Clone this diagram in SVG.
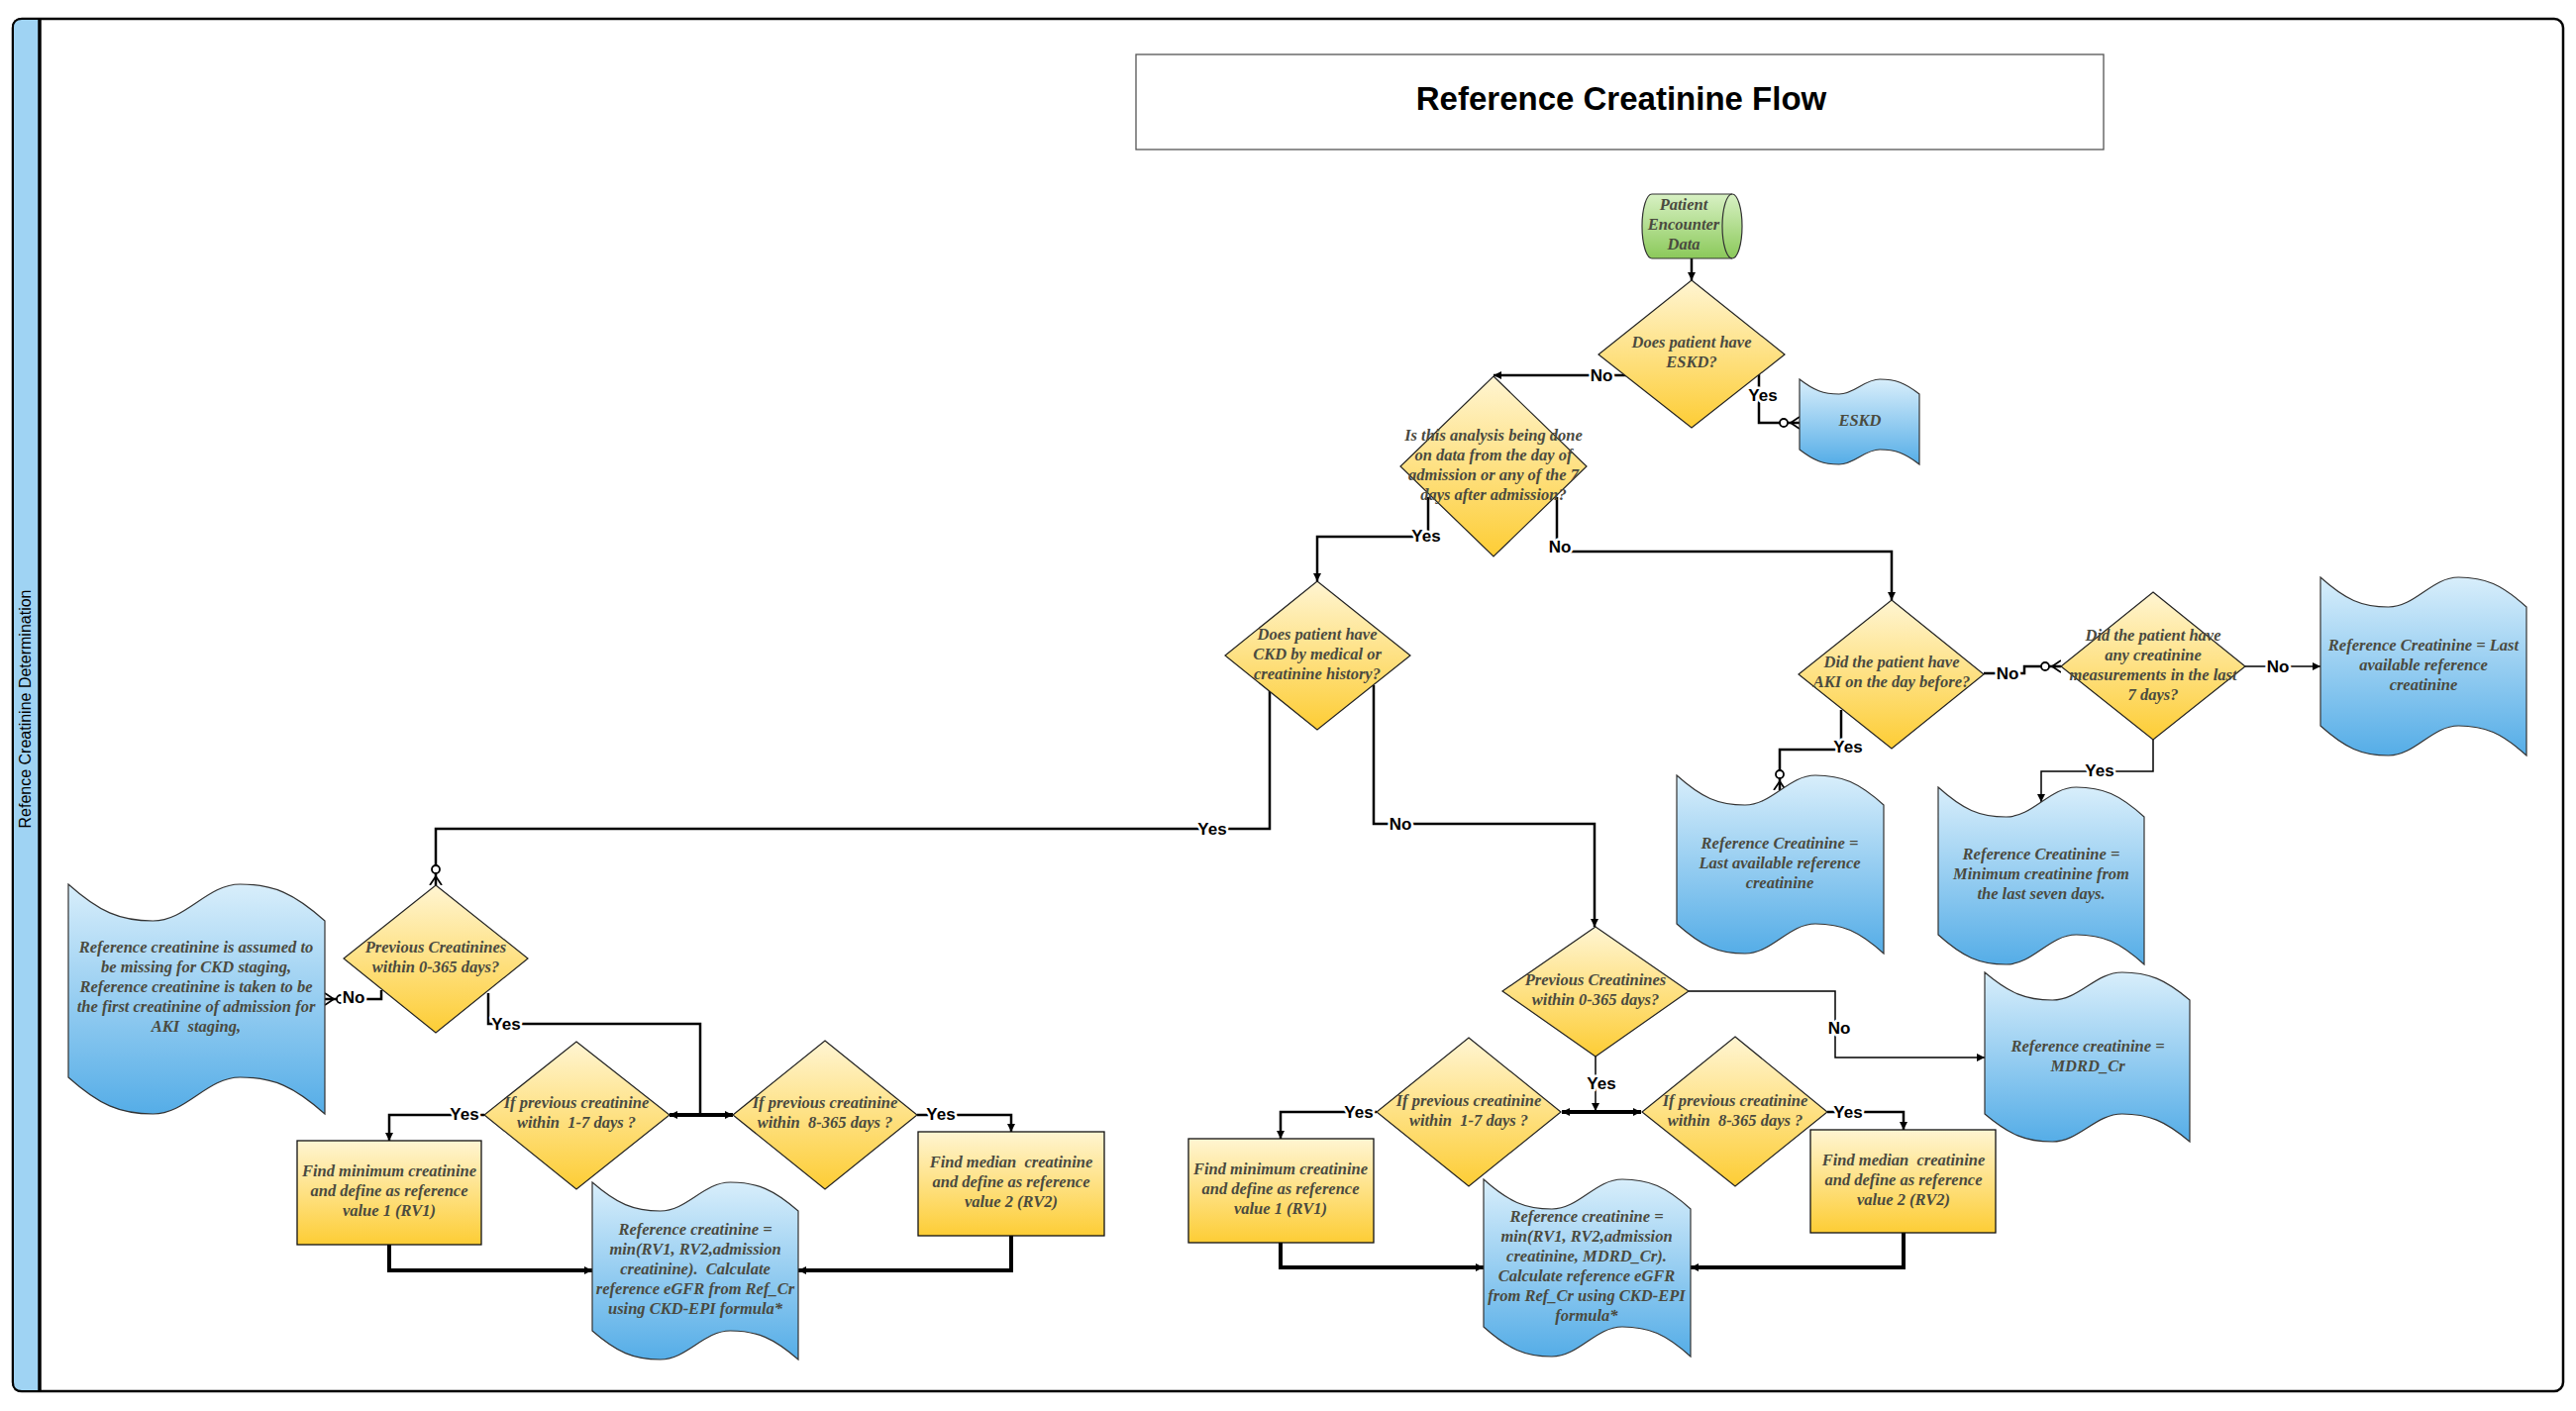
<svg xmlns="http://www.w3.org/2000/svg" width="2601" height="1425" viewBox="0 0 2601 1425">
<style>
.t{font-family:"Liberation Serif","DejaVu Serif",serif;font-weight:bold;font-style:italic;font-size:16.5px;fill:#4a4a3f;text-anchor:middle;white-space:pre}
.lb{font-family:"Liberation Sans",Arial,sans-serif;font-weight:bold;font-size:17px;fill:#000;text-anchor:middle;paint-order:stroke;stroke:#fff;stroke-width:5px;stroke-linejoin:round}
.dia{fill:url(#gy);stroke:#222;stroke-width:1.2}
.rect{fill:url(#gy);stroke:#111;stroke-width:1.3}
.doc{fill:url(#gb);stroke:#333;stroke-width:1.2}
.c{fill:none;stroke:#000;stroke-width:2.5}
.ck{fill:none;stroke:#000;stroke-width:4}
.cn{fill:none;stroke:#000;stroke-width:1.5}
</style>
<defs>
<linearGradient id="gy" x1="0" y1="0" x2="0" y2="1"><stop offset="0" stop-color="#fff5d2"/><stop offset="1" stop-color="#fdcd35"/></linearGradient>
<linearGradient id="gb" x1="0" y1="0" x2="0" y2="1"><stop offset="0" stop-color="#d8eefb"/><stop offset="1" stop-color="#55ade7"/></linearGradient>
<linearGradient id="gg" x1="0" y1="0" x2="0" y2="1"><stop offset="0" stop-color="#d8f1c4"/><stop offset="1" stop-color="#8bc95a"/></linearGradient>
<marker id="arr" viewBox="0 0 10 10" refX="10" refY="5" markerWidth="11" markerHeight="8" markerUnits="userSpaceOnUse" orient="auto-start-reverse"><path d="M0,0 L10,5 L0,10 Z" fill="#000"/></marker>
<marker id="zm" viewBox="0 0 22 14" refX="22" refY="7" markerWidth="22" markerHeight="14" markerUnits="userSpaceOnUse" orient="auto"><path d="M10,7 H22 M22,1 L13,7 L22,13" fill="none" stroke="#000" stroke-width="1.8"/><circle cx="6" cy="7" r="4" fill="#fff" stroke="#000" stroke-width="1.8"/></marker>
</defs>
<rect width="2601" height="1425" fill="#fff"/>
<g id="frame">
<rect x="13" y="19" width="2575" height="1386" rx="9" fill="#fff" stroke="#000" stroke-width="2.5"/>
<path d="M40,19 V1405 H22 Q13,1405 13,1396 V28 Q13,19 22,19 Z" fill="#9fd3f3" stroke="#000" stroke-width="2"/>
<line x1="40" y1="19" x2="40" y2="1405" stroke="#000" stroke-width="3.5"/>
<text x="31" y="716" transform="rotate(-90 31 716)" font-family="Liberation Sans, Arial, sans-serif" font-size="16" text-anchor="middle" fill="#000">Refence Creatinine Determination</text>
</g>
<g id="title">
<rect x="1147" y="55" width="977" height="96" fill="#fff" stroke="#555" stroke-width="1.3"/>
<text x="1637" y="111" font-family="Liberation Sans, Arial, sans-serif" font-weight="bold" font-size="33" text-anchor="middle" fill="#000">Reference Creatinine Flow</text>
</g>
<g id="connectors">
<path class="c" d="M1708,261 V283" marker-end="url(#arr)"/>
<path class="c" d="M1776,378 V427 H1817" marker-end="url(#zm)"/>
<path class="c" d="M1642,379 H1508" marker-end="url(#arr)"/>
<path class="c" d="M1442,502 V542 H1330 V587" marker-end="url(#arr)"/>
<path class="c" d="M1572,502 V557 H1910 V606" marker-end="url(#arr)"/>
<path class="c" d="M1282,698 V837 H440 V894" marker-end="url(#zm)"/>
<path class="c" d="M1387,692 V832 H1610 V936" marker-end="url(#arr)"/>
<path class="c" d="M1859,717 V757 H1797 V798" marker-end="url(#zm)"/>
<path class="c" d="M2003,680 H2044 V673 H2081" marker-end="url(#zm)"/>
<path class="cn" d="M2267,673 H2343" marker-end="url(#arr)"/>
<path class="cn" d="M2174,747 V779 H2061 V810" marker-end="url(#arr)"/>
<path class="c" d="M385,1000 V1009 H328" marker-end="url(#zm)"/>
<path class="c" d="M493,1003 V1034 H707 V1126"/>
<path class="ck" d="M676,1126 H740" marker-start="url(#arr)" marker-end="url(#arr)"/>
<path class="c" d="M489,1126 H393 V1152" marker-end="url(#arr)"/>
<path class="c" d="M926,1126 H1021 V1143" marker-end="url(#arr)"/>
<path class="ck" d="M393,1257 V1283 H598" marker-end="url(#arr)"/>
<path class="ck" d="M1021,1248 V1283 H806" marker-end="url(#arr)"/>
<path class="cn" d="M1611,1067 V1122" marker-end="url(#arr)"/>
<path class="ck" d="M1577,1123 H1657" marker-start="url(#arr)" marker-end="url(#arr)"/>
<path class="cn" d="M1705,1001 H1853 V1068 H2004" marker-end="url(#arr)"/>
<path class="c" d="M1390,1123 H1293 V1150" marker-end="url(#arr)"/>
<path class="c" d="M1845,1123 H1922 V1141" marker-end="url(#arr)"/>
<path class="ck" d="M1293,1255 V1280 H1498" marker-end="url(#arr)"/>
<path class="ck" d="M1922,1245 V1280 H1707" marker-end="url(#arr)"/>
</g>
<g id="nodes">
<g id="n-patient">
<path d="M1668,196 H1749 A10,32.5 0 0 1 1749,261 H1668 A10,32.5 0 0 1 1668,196 Z" fill="url(#gg)" stroke="#333" stroke-width="1.2"/>
<path d="M1749,196 A10,32.5 0 0 0 1749,261" fill="none" stroke="#333" stroke-width="1.2"/>
<text class="t" x="1700" y="212">Patient</text>
<text class="t" x="1700" y="232">Encounter</text>
<text class="t" x="1700" y="252">Data</text>
</g>
<g id="n-eskd-q">
<polygon class="dia" points="1708,283 1802,358 1708,432 1614,358"/>
<text class="t" x="1708" y="351">Does patient have</text>
<text class="t" x="1708" y="371">ESKD?</text>
</g>
<g id="n-eskd">
<path class="doc" d="M1817,383 C1831.5,394.25 1841.2,398 1856.9,398 C1872.7,398 1882.3,383 1898.1,383 C1913.8,383 1923.5,386.75 1938,398 L1938,469 C1923.5,457.75 1913.8,454 1898.1,454 C1882.3,454 1872.7,469 1856.9,469 C1841.2,469 1831.5,465.25 1817,454 Z"/>
<text class="t" x="1878" y="430">ESKD</text>
</g>
<g id="n-analysis">
<polygon class="dia" points="1508,380 1602,471 1508,562 1414,471"/>
<text class="t" x="1508" y="445">Is this analysis being done</text>
<text class="t" x="1508" y="465">on data from the day of</text>
<text class="t" x="1508" y="485">admission or any of the 7</text>
<text class="t" x="1508" y="505">days after admission?</text>
</g>
<g id="n-ckd">
<polygon class="dia" points="1330,587 1424,662 1330,737 1237,662"/>
<text class="t" x="1330" y="646">Does patient have</text>
<text class="t" x="1330" y="666">CKD by medical or</text>
<text class="t" x="1330" y="686">creatinine history?</text>
</g>
<g id="n-aki">
<polygon class="dia" points="1910,606 2003,681 1910,756 1816,681"/>
<text class="t" x="1910" y="674">Did the patient have</text>
<text class="t" x="1910" y="694">AKI on the day before?</text>
</g>
<g id="n-7days">
<polygon class="dia" points="2174,598 2267,673 2174,747 2081,673"/>
<text class="t" x="2174" y="647">Did the patient have</text>
<text class="t" x="2174" y="667">any creatinine</text>
<text class="t" x="2174" y="687">measurements in the last</text>
<text class="t" x="2174" y="707">7 days?</text>
</g>
<g id="n-last-avail-1">
<path class="doc" d="M2343,583 C2368,605.5 2384.6,613 2411.6,613 C2438.7,613 2455.3,583 2482.4,583 C2509.4,583 2526,590.5 2551,613 L2551,763 C2526,740.5 2509.4,733 2482.4,733 C2455.3,733 2438.7,763 2411.6,763 C2384.6,763 2368,755.5 2343,733 Z"/>
<text class="t" x="2447" y="657">Reference Creatinine = Last</text>
<text class="t" x="2447" y="677">available reference</text>
<text class="t" x="2447" y="697">creatinine</text>
</g>
<g id="n-last-avail-2">
<path class="doc" d="M1693,783 C1718.1,805.5 1734.8,813 1762,813 C1789.1,813 1805.9,783 1833,783 C1860.2,783 1876.9,790.5 1902,813 L1902,963 C1876.9,940.5 1860.2,933 1833,933 C1805.9,933 1789.1,963 1762,963 C1734.8,963 1718.1,955.5 1693,933 Z"/>
<text class="t" x="1797" y="857">Reference Creatinine =</text>
<text class="t" x="1797" y="877">Last available reference</text>
<text class="t" x="1797" y="897">creatinine</text>
</g>
<g id="n-min7">
<path class="doc" d="M1957,795 C1982,817.5 1998.6,825 2025.6,825 C2052.7,825 2069.3,795 2096.4,795 C2123.4,795 2140,802.5 2165,825 L2165,974 C2140,951.5 2123.4,944 2096.4,944 C2069.3,944 2052.7,974 2025.6,974 C1998.6,974 1982,966.5 1957,944 Z"/>
<text class="t" x="2061" y="868">Reference Creatinine =</text>
<text class="t" x="2061" y="888">Minimum creatinine from</text>
<text class="t" x="2061" y="908">the last seven days.</text>
</g>
<g id="n-mdrd">
<path class="doc" d="M2004,982 C2028.8,1003 2045.4,1010 2072.3,1010 C2099.2,1010 2115.8,982 2142.7,982 C2169.6,982 2186.2,989 2211,1010 L2211,1153 C2186.2,1132 2169.6,1125 2142.7,1125 C2115.8,1125 2099.2,1153 2072.3,1153 C2045.4,1153 2028.8,1146 2004,1125 Z"/>
<text class="t" x="2108" y="1062">Reference creatinine =</text>
<text class="t" x="2108" y="1082">MDRD_Cr</text>
</g>
<g id="n-missing">
<path class="doc" d="M69,893 C100.1,920.75 120.8,930 154.5,930 C188.1,930 208.9,893 242.5,893 C276.2,893 296.9,902.25 328,930 L328,1125 C296.9,1097.25 276.2,1088 242.5,1088 C208.9,1088 188.1,1125 154.5,1125 C120.8,1125 100.1,1115.75 69,1088 Z"/>
<text class="t" x="198" y="962">Reference creatinine is assumed to</text>
<text class="t" x="198" y="982">be missing for CKD staging,</text>
<text class="t" x="198" y="1002">Reference creatinine is taken to be</text>
<text class="t" x="198" y="1022">the first creatinine of admission for</text>
<text class="t" x="198" y="1042">AKI  staging,</text>
</g>
<g id="n-prev-left">
<polygon class="dia" points="440,894 533,968 440,1043 347,968"/>
<text class="t" x="440" y="962">Previous Creatinines</text>
<text class="t" x="440" y="982">within 0-365 days?</text>
</g>
<g id="n-17-left">
<polygon class="dia" points="582,1052 676,1126 582,1201 489,1126"/>
<text class="t" x="582" y="1119">If previous creatinine</text>
<text class="t" x="582" y="1139">within  1-7 days ?</text>
</g>
<g id="n-8365-left">
<polygon class="dia" points="833,1051 926,1126 833,1201 740,1126"/>
<text class="t" x="833" y="1119">If previous creatinine</text>
<text class="t" x="833" y="1139">within  8-365 days ?</text>
</g>
<g id="n-rv1-left">
<rect class="rect" x="300" y="1152" width="186" height="105"/>
<text class="t" x="393" y="1188">Find minimum creatinine</text>
<text class="t" x="393" y="1208">and define as reference</text>
<text class="t" x="393" y="1228">value 1 (RV1)</text>
</g>
<g id="n-rv2-left">
<rect class="rect" x="927" y="1143" width="188" height="105"/>
<text class="t" x="1021" y="1179">Find median  creatinine</text>
<text class="t" x="1021" y="1199">and define as reference</text>
<text class="t" x="1021" y="1219">value 2 (RV2)</text>
</g>
<g id="n-ref-left">
<path class="doc" d="M598,1194 C623,1215.75 639.6,1223 666.6,1223 C693.7,1223 710.3,1194 737.4,1194 C764.4,1194 781,1201.25 806,1223 L806,1373 C781,1351.25 764.4,1344 737.4,1344 C710.3,1344 693.7,1373 666.6,1373 C639.6,1373 623,1365.75 598,1344 Z"/>
<text class="t" x="702" y="1247">Reference creatinine =</text>
<text class="t" x="702" y="1267">min(RV1, RV2,admission</text>
<text class="t" x="702" y="1287">creatinine).  Calculate</text>
<text class="t" x="702" y="1307">reference eGFR from Ref_Cr</text>
<text class="t" x="702" y="1327">using CKD-EPI formula*</text>
</g>
<g id="n-prev-right">
<polygon class="dia" points="1611,936 1705,1001 1611,1067 1517,1001"/>
<text class="t" x="1611" y="995">Previous Creatinines</text>
<text class="t" x="1611" y="1015">within 0-365 days?</text>
</g>
<g id="n-17-right">
<polygon class="dia" points="1483,1048 1576,1123 1483,1198 1390,1123"/>
<text class="t" x="1483" y="1117">If previous creatinine</text>
<text class="t" x="1483" y="1137">within  1-7 days ?</text>
</g>
<g id="n-8365-right">
<polygon class="dia" points="1752,1047 1845,1123 1752,1198 1658,1123"/>
<text class="t" x="1752" y="1117">If previous creatinine</text>
<text class="t" x="1752" y="1137">within  8-365 days ?</text>
</g>
<g id="n-rv1-right">
<rect class="rect" x="1200" y="1150" width="187" height="105"/>
<text class="t" x="1293" y="1186">Find minimum creatinine</text>
<text class="t" x="1293" y="1206">and define as reference</text>
<text class="t" x="1293" y="1226">value 1 (RV1)</text>
</g>
<g id="n-rv2-right">
<rect class="rect" x="1828" y="1141" width="187" height="104"/>
<text class="t" x="1922" y="1177">Find median  creatinine</text>
<text class="t" x="1922" y="1197">and define as reference</text>
<text class="t" x="1922" y="1217">value 2 (RV2)</text>
</g>
<g id="n-ref-right">
<path class="doc" d="M1498,1191 C1523.1,1213.5 1539.8,1221 1567,1221 C1594.1,1221 1610.9,1191 1638,1191 C1665.2,1191 1681.9,1198.5 1707,1221 L1707,1370 C1681.9,1347.5 1665.2,1340 1638,1340 C1610.9,1340 1594.1,1370 1567,1370 C1539.8,1370 1523.1,1362.5 1498,1340 Z"/>
<text class="t" x="1602" y="1234">Reference creatinine =</text>
<text class="t" x="1602" y="1254">min(RV1, RV2,admission</text>
<text class="t" x="1602" y="1274">creatinine, MDRD_Cr).</text>
<text class="t" x="1602" y="1294">Calculate reference eGFR</text>
<text class="t" x="1602" y="1314">from Ref_Cr using CKD-EPI</text>
<text class="t" x="1602" y="1334">formula*</text>
</g>
</g>
<g id="labels">
<text class="lb" x="1617" y="385">No</text>
<text class="lb" x="1780" y="405">Yes</text>
<text class="lb" x="1440" y="547">Yes</text>
<text class="lb" x="1575" y="558">No</text>
<text class="lb" x="1224" y="843">Yes</text>
<text class="lb" x="1414" y="838">No</text>
<text class="lb" x="2027" y="686">No</text>
<text class="lb" x="2300" y="679">No</text>
<text class="lb" x="2120" y="784">Yes</text>
<text class="lb" x="1866" y="760">Yes</text>
<text class="lb" x="357" y="1013">No</text>
<text class="lb" x="511" y="1040">Yes</text>
<text class="lb" x="469" y="1131">Yes</text>
<text class="lb" x="950" y="1131">Yes</text>
<text class="lb" x="1617" y="1100">Yes</text>
<text class="lb" x="1857" y="1044">No</text>
<text class="lb" x="1372" y="1129">Yes</text>
<text class="lb" x="1866" y="1129">Yes</text>
</g>
</svg>
